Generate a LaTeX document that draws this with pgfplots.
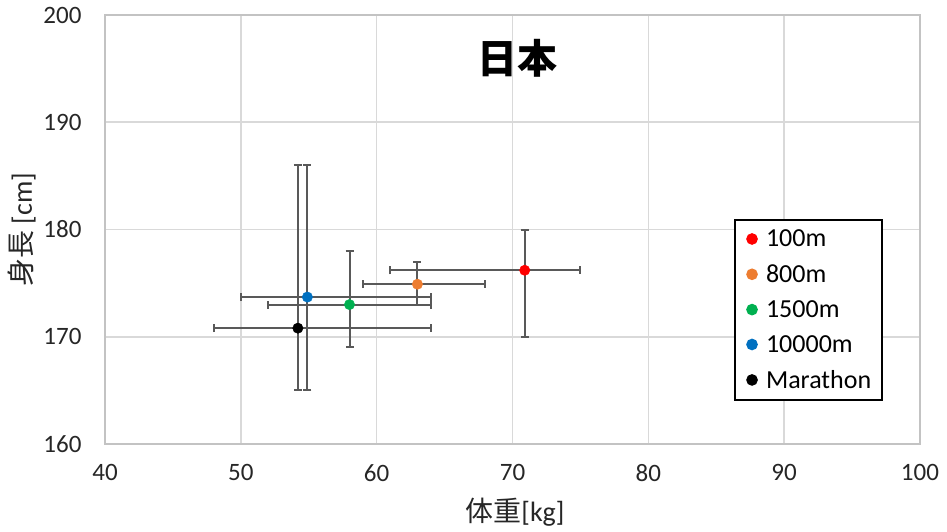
\documentclass[border=0pt]{standalone}
\usepackage{pgfplots}
\pgfplotsset{compat=1.18}
\usepackage{pgfplotstable}
\usepackage{fontspec}
\setmainfont{Carlito}
\newfontfamily\cjk{Noto Sans CJK JP}
\definecolor{c100}{HTML}{FF0000}
\definecolor{c800}{HTML}{ED7D31}
\definecolor{c1500}{HTML}{00B050}
\definecolor{c10000}{HTML}{0070C0}
\definecolor{errc}{HTML}{595959}
\definecolor{gridc}{HTML}{D9D9D9}
\pgfplotstableread{
x y xp xm yp ym
70.9 176.2 4.1 9.9 3.8 6.2
}\tHundred
\pgfplotstableread{
x y xp xm yp ym
63.0 174.9 5.0 4.0 2.1 1.9
}\tEight
\pgfplotstableread{
x y xp xm yp ym
58.0 173.0 6.0 6.0 5.0 4.0
}\tFifteen
\pgfplotstableread{
x y xp xm yp ym
54.9 173.7 9.1 4.9 12.3 8.7
}\tTenK
\pgfplotstableread{
x y xp xm yp ym
54.2 170.8 9.8 6.2 15.2 5.8
}\tMara
\pgfplotsset{
  errstyle/.style={
    only marks, mark=*, mark size=5.2pt,
    error bars/x dir=both, error bars/y dir=both,
    error bars/x explicit, error bars/y explicit,
    error bars/error bar style={errc, line width=2pt},
    error bars/error mark options={errc, line width=2pt, mark size=4pt, rotate=90},
  }
}
\begin{document}
\begin{tikzpicture}
\path[use as bounding box] (-105pt,-87pt) rectangle (842pt,444pt);
\begin{axis}[
  at={(0,0)}, anchor=south west,
  scale only axis, width=815pt, height=429pt,
  xmin=40, xmax=100, ymin=160, ymax=200,
  xtick={40,50,...,100}, ytick={160,170,...,200},
  grid=major,
  major grid style={gridc, line width=1.6pt},
  axis line style={gridc!75!gray, line width=1.6pt},
  major tick length=0pt,
  tick label style={font=\fontsize{25}{30}\selectfont, text=black!85},
  /pgf/number format/assume math mode=true,
  yticklabel style={xshift=-20pt},
  xticklabel style={yshift=-17pt},
  xlabel={{\cjk 体重}[kg]},
  ylabel={{\cjk 身長} [cm]},
  label style={font=\fontsize{28}{32}\selectfont, text=black!85},
  xlabel style={at={(axis description cs:0.503,-0.1585)}, anchor=center},
  ylabel style={at={(axis description cs:-0.1018,0.5)}, anchor=center},
  title={\cjk\bfseries 日本},
  title style={at={(axis description cs:0.506,0.886)}, anchor=center, font=\fontsize{40}{44}\selectfont},
  legend style={at={(0.9546,0.5245)}, anchor=north east, draw=black, line width=1.6pt,
    font=\fontsize{26}{30}\selectfont, row sep=12.5pt, inner xsep=6pt, inner ysep=8pt,
    nodes={inner xsep=5pt}},
  legend image code/.code={\path[draw=none] (-11pt,0pt) -- (9pt,0pt); \draw[mark size=5pt] plot coordinates {(0pt,0pt)};},
  legend cell align=left,
]
\addplot+[errstyle, color=c100, mark options={fill=c100, draw=c100}]
  table[x=x, y=y, x error plus=xp, x error minus=xm, y error plus=yp, y error minus=ym] {\tHundred};
\addlegendentry{100m}
\addplot+[errstyle, color=c800, mark options={fill=c800, draw=c800}]
  table[x=x, y=y, x error plus=xp, x error minus=xm, y error plus=yp, y error minus=ym] {\tEight};
\addlegendentry{800m}
\addplot+[errstyle, color=c1500, mark options={fill=c1500, draw=c1500}]
  table[x=x, y=y, x error plus=xp, x error minus=xm, y error plus=yp, y error minus=ym] {\tFifteen};
\addlegendentry{1500m}
\addplot+[errstyle, color=c10000, mark options={fill=c10000, draw=c10000}]
  table[x=x, y=y, x error plus=xp, x error minus=xm, y error plus=yp, y error minus=ym] {\tTenK};
\addlegendentry{10000m}
\addplot+[errstyle, color=black, mark options={fill=black, draw=black}]
  table[x=x, y=y, x error plus=xp, x error minus=xm, y error plus=yp, y error minus=ym] {\tMara};
\addlegendentry{Marathon}
\end{axis}
\end{tikzpicture}
\end{document}
